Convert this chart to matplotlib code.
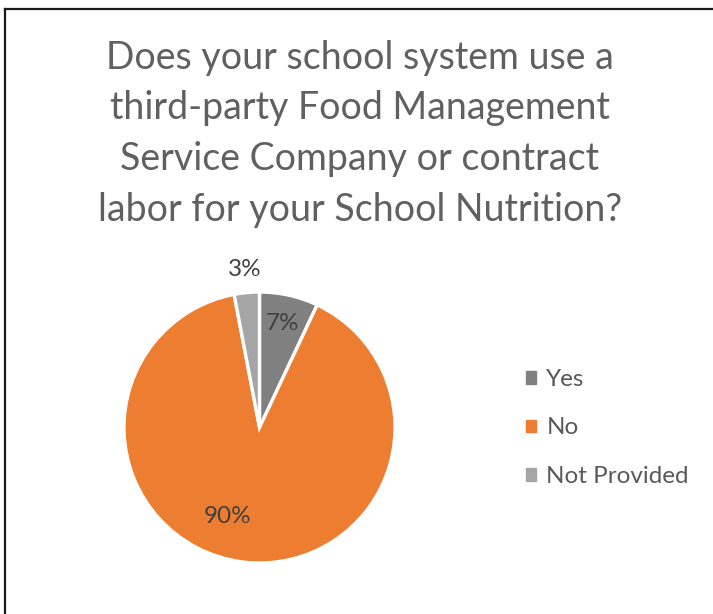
import numpy as np
import matplotlib.pyplot as plt
from matplotlib.lines import Line2D

plt.rcParams['font.family'] = ['Lato', 'DejaVu Sans']

# survey answers
labels = ['Yes', 'No', 'Not Provided']
shares = [7, 90, 3]
colors = ['#808080', '#ED7D31', '#A5A5A5']
title = ('Does your school system use a\nthird-party Food Management\n'
         'Service Company or contract\nlabor for your School Nutrition?')

# where each percentage sits: fraction of radius, extra angle (deg, clockwise)
label_radius = [0.79, 0.70, 1.17]
label_shift = [0, 12.4, 0]

W, H = 713, 614
fig = plt.figure(figsize=(W / 100, H / 100), dpi=100)

# chart frame (top and left edges visible)
fig.add_artist(Line2D([5 / W, 5 / W], [0, 1 - 9 / H], color='#1a1a1a', lw=1.6))
fig.add_artist(Line2D([5 / W, 1], [1 - 9 / H, 1 - 9 / H], color='#1a1a1a', lw=1.6))

fig.text(360 / W, 1 - 40 / H, title, ha='center', va='top', fontsize=27,
         color='#606060', linespacing=1.5)

cx, cy, r = 259.5, 427.5, 135.5
ax = fig.add_axes([(cx - r) / W, 1 - (cy + r) / H, 2 * r / W, 2 * r / H])
wedges, _ = ax.pie(shares, colors=colors, startangle=90, counterclock=False,
                   wedgeprops=dict(edgecolor='white', linewidth=2.4))
ax.set_xlim(-1, 1)
ax.set_ylim(-1, 1)

for w, v, rf, sh in zip(wedges, shares, label_radius, label_shift):
    mid = np.deg2rad((w.theta1 + w.theta2) / 2 - sh)
    ax.text(rf * np.cos(mid), rf * np.sin(mid), f'{v}%', ha='center', va='center',
            fontsize=17.5, color='#404040')

handles = [plt.Rectangle((0, 0), 1, 1, color=c) for c in colors]
fig.legend(handles, labels, loc='center left', bbox_to_anchor=(504 / W, 1 - 428 / H),
           frameon=False, fontsize=17.5, handlelength=0.42, handleheight=0.42,
           handletextpad=0.42, labelspacing=1.13, labelcolor='#595959')

fig.savefig('out.png', dpi=100)
